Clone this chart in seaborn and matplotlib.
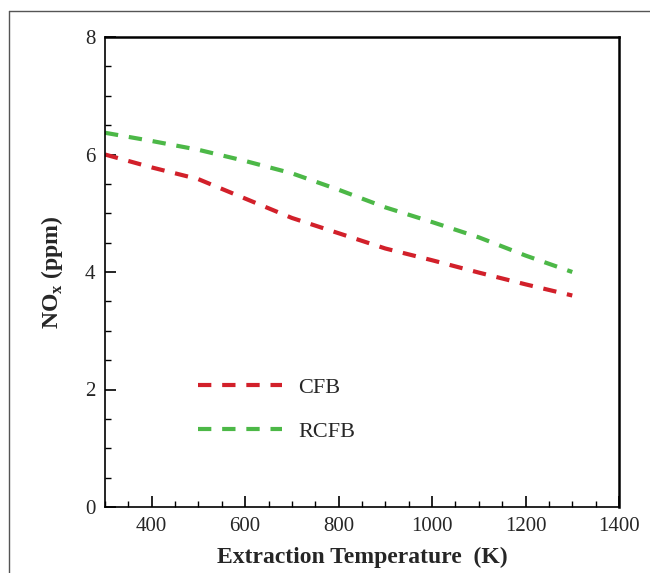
import numpy as np
import pandas as pd
import matplotlib
matplotlib.use("Agg")
import matplotlib.pyplot as plt
from matplotlib.lines import Line2D
from matplotlib.ticker import MultipleLocator
import seaborn as sns

# ---- data ----
temperature = [300, 400, 500, 600, 700, 800, 900, 1000, 1100, 1200, 1300]
nox_cfb = [6.00, 5.78, 5.58, 5.25, 4.92, 4.66, 4.40, 4.20, 3.99, 3.79, 3.60]
nox_rcfb = [6.37, 6.23, 6.08, 5.89, 5.68, 5.40, 5.10, 4.85, 4.59, 4.28, 4.00]
series_names = ["CFB", "RCFB"]
x_ticks = [400, 600, 800, 1000, 1200, 1400]
y_ticks = [0, 2, 4, 6, 8]

df = pd.DataFrame({
    "T": temperature * 2,
    "NOx": nox_cfb + nox_rcfb,
    "case": [series_names[0]] * len(temperature) + [series_names[1]] * len(temperature),
})

sns.set_style("ticks")
plt.rcParams["font.family"] = ["Liberation Serif", "DejaVu Serif"]
plt.rcParams["mathtext.fontset"] = "custom"
plt.rcParams["mathtext.rm"] = "Liberation Serif"
plt.rcParams["mathtext.bf"] = "Liberation Serif:bold"

colors = {"CFB": "#d2202a", "RCFB": "#4cb847"}
dash = (3.2, 2.6)

fig = plt.figure(figsize=(6.5, 5.73), dpi=100)
ax = fig.add_axes([105 / 650, 66 / 573, 514 / 650, 470 / 573])

sns.lineplot(data=df, x="T", y="NOx", hue="case", style="case",
             palette=colors, dashes={"CFB": dash, "RCFB": dash},
             linewidth=3.0, legend=False, ax=ax)
for ln in ax.lines:
    ln.set_solid_capstyle("butt")
    ln.set_dash_capstyle("butt")

ax.set_xlim(300, 1400)
ax.set_ylim(0, 8)
ax.set_xticks(x_ticks)
ax.set_yticks(y_ticks)
ax.xaxis.set_minor_locator(MultipleLocator(50))
ax.yaxis.set_minor_locator(MultipleLocator(0.5))
ax.tick_params(which="major", direction="in", length=8, width=1.2,
               labelsize=15, color="black", pad=7)
ax.tick_params(which="minor", direction="in", length=4.5, width=1.0, color="black")
ax.tick_params(axis="y", which="major", pad=7)
ax.tick_params(top=False, right=False, which="both")

for side in ["left", "bottom"]:
    ax.spines[side].set_linewidth(1.2)
for side in ["top", "right"]:
    ax.spines[side].set_linewidth(1.8)
for sp in ax.spines.values():
    sp.set_color("black")

ax.set_xlabel("Extraction Temperature  (K)", fontsize=17, fontweight="bold", labelpad=8)
ax.set_ylabel(r"NO$_\mathregular{x}$ (ppm)", fontsize=17, fontweight="bold", labelpad=14)

handles = [Line2D([0], [0], color=colors[n], lw=3.0, linestyle=(0, dash),
                  dash_capstyle="butt") for n in series_names]
ax.legend(handles, series_names, loc="center left", bbox_to_anchor=(0.181, 0.2074),
          frameon=False, fontsize=16, handlelength=3.8, handletextpad=0.72,
          labelspacing=1.05, borderpad=0, borderaxespad=0)

# outer frame of the figure panel
fig.add_artist(Line2D([9 / 650, 9 / 650], [0, 1 - 11 / 573], transform=fig.transFigure,
                      color="#555555", lw=1.0))
fig.add_artist(Line2D([9 / 650, 1], [1 - 11 / 573, 1 - 11 / 573], transform=fig.transFigure,
                      color="#555555", lw=1.0))

fig.savefig("out.png", dpi=100)
